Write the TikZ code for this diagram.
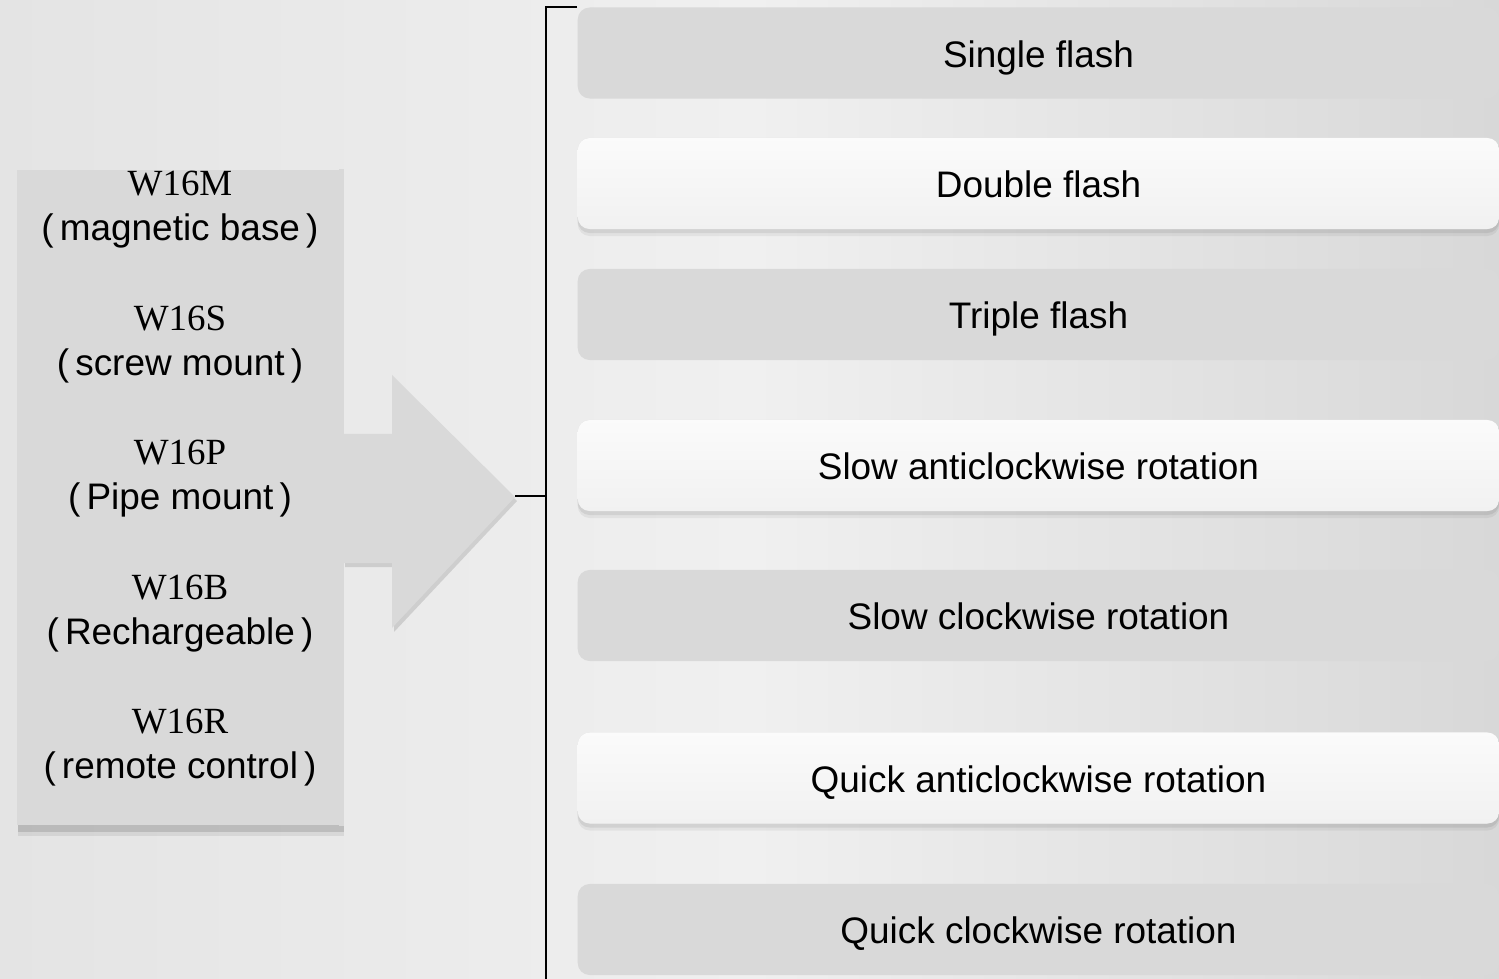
\documentclass[tikz,border=0pt]{standalone}
\usepackage{fontspec}
\setmainfont{Liberation Serif}
\setsansfont{Liberation Sans}
\usepackage{tikz}
\usetikzlibrary{shadows,calc}

\definecolor{bgleft}{HTML}{E4E4E4}
\definecolor{bgmid}{HTML}{F0F0F0}
\definecolor{bgright}{HTML}{D8D8D8}
\definecolor{boxdark}{HTML}{D9D9D9}
\definecolor{boxlight}{HTML}{F1F1F1}

\begin{document}
\begin{tikzpicture}[x=0.01cm,y=-0.01cm]
\tikzset{
	dark box/.style = {rounded corners=0.12cm, fill=boxdark, minimum width=9.21cm, minimum height=0.91cm,
		text height=0.285cm, text depth=0cm, font=\sffamily\fontsize{10.5}{12}\selectfont},
	light box/.style = {dark box, top color=white!70!boxlight, bottom color=boxlight,
		drop shadow={shadow xshift=0cm, shadow yshift=-0.07cm, opacity=0.05, fill=black},
		drop shadow={shadow xshift=0cm, shadow yshift=-0.04cm, opacity=0.07, fill=black}},
	model/.style = {font=\rmfamily\fontsize{10.5}{12}\selectfont, inner sep=0},
	mount/.style = {font=\sffamily\fontsize{10.5}{12}\selectfont, inner sep=0},
}

\useasboundingbox (0,0) rectangle (1499,979);
\shade[left color=bgleft, right color=bgright, middle color=bgmid] (0,0) rectangle (1499,979);

\node(models)[fill=boxdark, minimum width=3.26cm, minimum height=6.55cm,
	drop shadow={shadow xshift=0.01cm, shadow yshift=-0.11cm, opacity=0.07, fill=black},
	drop shadow={shadow xshift=0.01cm, shadow yshift=-0.07cm, opacity=0.12, fill=black}] at (180,497.5) {};

\fill[boxdark, drop shadow={shadow xshift=0.02cm, shadow yshift=-0.04cm, opacity=0.12, fill=black}]
	(343,434) -- (392,434) -- (392,375) -- (515,497) -- (392,628) -- (392,563) -- (343,563) -- cycle;
\fill[boxdark] (models.north east) ++(-5,0) rectangle (models.south east);
\coordinate(tip) at (515,496);

\foreach \code/\mount [count=\i] in {W16M/magnetic base, W16S/screw mount, W16P/Pipe mount,
	W16B/Rechargeable, W16R/remote control}
{
	\pgfmathsetmacro{\ya}{184+134.5*(\i-1)}
	\pgfmathsetmacro{\yb}{\ya+47}
	\node(m\i)[model] at (180,\ya) {\code};
	\node(p\i)[mount] at (180,\yb) {(\,\mount\,)};
}

\foreach \yc/\n/\txt in {53/1/Single flash, 314.5/3/Triple flash, 615.5/5/Slow clockwise rotation,
	929.5/7/Quick clockwise rotation}
	\node(r\n)[dark box] at (1038.5,\yc) {\txt};

\foreach \yc/\n/\txt in {183.5/2/Double flash, 465.5/4/Slow anticlockwise rotation,
	778/6/Quick anticlockwise rotation}
	\node(r\n)[light box] at (1038.5,\yc) {\txt};

\coordinate(trunk) at (546,496);
\coordinate(bottom) at (546,979);
\draw[line width=0.6pt] (r1.north west) -- (r1.north west -| trunk) -- (bottom);
\draw[line width=0.6pt] (tip) -- (trunk);

\end{tikzpicture}
\end{document}
